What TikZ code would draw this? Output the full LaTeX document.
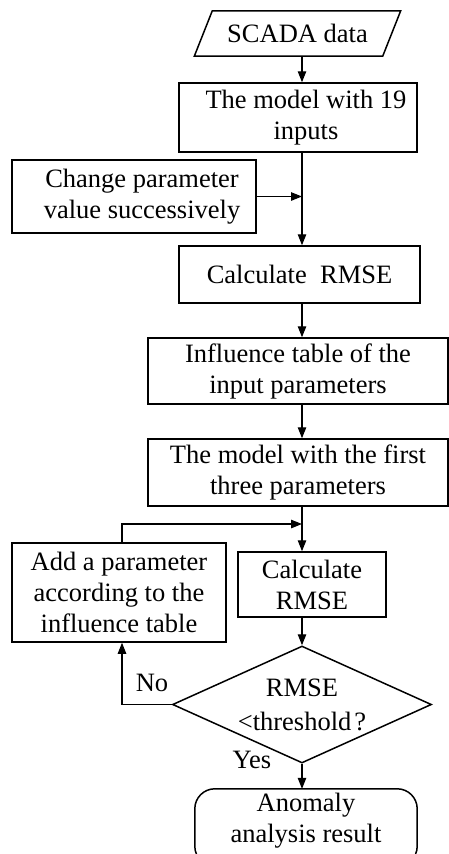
\documentclass[tikz,border=0pt]{standalone}
\usepackage{fontspec}
\setmainfont{Liberation Serif}
\usetikzlibrary{arrows.meta,shapes.geometric}
\begin{document}
\begin{tikzpicture}[x=1pt,y=-1pt,
  boxline/.style={line width=1.5pt},
  box/.style={draw, boxline, align=center, inner sep=0pt},
  conn/.style={line width=1.1pt, -{Triangle[length=11pt,width=8.5pt]}},
  font=\fontsize{26.5}{31}\selectfont]
\useasboundingbox (0,0) rectangle (449,854);
\coordinate (sp) at (302,0);
% nodes
\node (scada) [minimum width=188pt, minimum height=45pt, inner sep=0pt] at (297.5,33.5) {SCADA data};
\draw[boxline] ([xshift=9pt]scada.north west) -- ([xshift=9pt]scada.north east)
  -- ([xshift=-9pt]scada.south east) -- ([xshift=-9pt]scada.south west) -- cycle;
\node (m19) [box, minimum width=238pt, minimum height=69pt] at (298,117.5) {\hspace*{16pt}The model with 19\\\hspace*{16pt}inputs};
\node (change) [box, minimum width=244pt, minimum height=73pt] at (134,196.5) {\hspace*{16pt}Change parameter\\\hspace*{16pt}value successively};
\node (calc1) [box, minimum width=241pt, minimum height=57pt] at (299.5,274.5) {Calculate\ \ RMSE};
\node (infl) [box, minimum width=300pt, minimum height=66pt] at (298,371) {Influence table of the\\input parameters};
\node (first) [box, minimum width=300pt, minimum height=67pt] at (298,472.5) {The model with the first\\three parameters};
\node (add) [box, minimum width=214pt, minimum height=99pt] at (119,592.5) {Add a parameter\\according to the\\influence table};
\node (calc2) [box, minimum width=148pt, minimum height=65pt] at (312,584.5) {Calculate\\RMSE};
\node (dec) [draw, boxline, diamond, aspect=2.2, minimum width=259pt, minimum height=117pt, inner sep=0pt, align=center] at (302,704.5) {RMSE\\[3pt]{<}threshold\hspace{3pt}?};
\node (res) [minimum width=222pt, minimum height=63pt, inner sep=0pt, align=center] at (306,820.5) {Anomaly\\analysis result};
\draw[boxline, rounded corners=20pt] (res.north west) rectangle ([yshift=-14pt]res.south east);
\node (no) at (152,683) {No};
\node (yes) at (252,760) {Yes};
\coordinate (fb) at (122,524);
% connectors
\draw[conn] (scada.south -| sp) -- (m19.north -| sp);
\draw[conn] (m19.south -| sp) -- (calc1.north -| sp);
\draw[conn] (change.east) -- (change.east -| sp);
\draw[conn] (calc1.south -| sp) -- (infl.north -| sp);
\draw[conn] (infl.south -| sp) -- (first.north -| sp);
\draw[conn] (first.south -| sp) -- (calc2.north -| sp);
\draw[conn] (add.north -| fb) -- (fb) -- (fb -| sp);
\draw[conn] (calc2.south -| sp) -- (dec.north);
\draw[conn] (dec.west) -| (add.south -| fb);
\draw[conn] (dec.south) -- (res.north -| sp);
\end{tikzpicture}
\end{document}
